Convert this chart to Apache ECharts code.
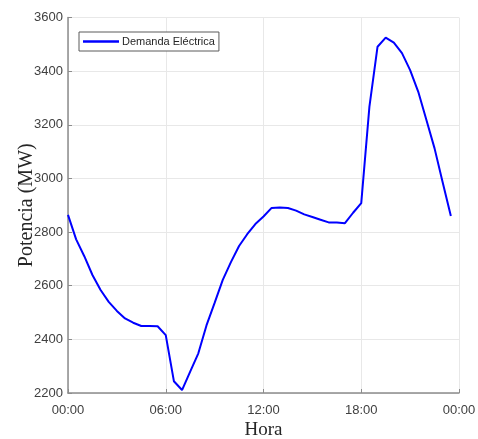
<!DOCTYPE html>
<html>
<head>
<meta charset="utf-8">
<script src="https://cdn.jsdelivr.net/npm/echarts@6/dist/echarts.min.js"></script>
<style>
  html, body { margin: 0; padding: 0; background: #fff; }
  #chart { width: 478px; height: 439px; }
</style>
</head>
<body>
<div id="chart"></div>
<script>
// Half-hourly electricity demand over one day
const hours = [0, 0.5, 1, 1.5, 2, 2.5, 3, 3.5, 4, 4.5, 5, 5.5, 6, 6.5, 7, 7.5,
  8, 8.5, 9, 9.5, 10, 10.5, 11, 11.5, 12, 12.5, 13, 13.5, 14, 14.5, 15, 15.5,
  16, 16.5, 17, 17.5, 18, 18.5, 19, 19.5, 20, 20.5, 21, 21.5, 22, 22.5, 23, 23.5];
const demandMW = [2864, 2773, 2710, 2640, 2584, 2540, 2506, 2478, 2462, 2450, 2450, 2449,
  2416, 2244, 2211, 2280, 2348, 2452, 2536, 2622, 2688, 2748, 2792, 2830,
  2858, 2890, 2892, 2890, 2880, 2866, 2856, 2846, 2836, 2836, 2833, 2872,
  2908, 3267, 3491, 3525, 3506, 3467, 3404, 3323, 3218, 3112, 2985, 2860];
const xTicks = [0, 6, 12, 18, 24];
const xTickLabels = ['00:00', '06:00', '12:00', '18:00', '00:00'];
const seriesName = 'Demanda Eléctrica';

const chart = echarts.init(document.getElementById('chart'));
const sans = 'Liberation Sans, Arial, sans-serif';
const serif = 'Liberation Serif, Times New Roman, serif';
const gridLine = { show: true, lineStyle: { color: '#e8e8e8', width: 1 } };

chart.setOption({
  animation: false,
  backgroundColor: '#ffffff',
  grid: { left: 68, right: 19, top: 17.5, bottom: 46, containLabel: false, outerBoundsMode: 'none' },
  legend: {
    left: 79, top: 32,
    data: [{ name: seriesName, icon: 'rect' }],
    orient: 'horizontal',
    borderColor: '#5a5a5a', borderWidth: 1, borderRadius: 0,
    padding: [4, 4, 4, 4],
    backgroundColor: '#ffffff',
    itemWidth: 36, itemHeight: 2.5, itemGap: 4,
    textStyle: { fontFamily: sans, fontSize: 11, color: '#262626', padding: [0, 0, 0, -2] }
  },
  xAxis: {
    type: 'value', min: 0, max: 24, interval: 6,
    name: 'Hora', nameLocation: 'middle', nameGap: 28, nameMoveOverlap: false,
    nameTextStyle: { fontFamily: serif, fontSize: 19, color: '#262626' },
    axisLine: { show: true, onZero: false, lineStyle: { color: '#8c8c8c', width: 1.5 } },
    axisTick: { show: true, inside: true, length: 4, lineStyle: { color: '#8c8c8c' } },
    axisLabel: {
      fontFamily: sans, fontSize: 13, color: '#404040', margin: 11,
      formatter: v => xTickLabels[xTicks.indexOf(v)] ?? ''
    },
    splitLine: gridLine
  },
  yAxis: {
    type: 'value', min: 2200, max: 3600, interval: 200,
    name: 'Potencia (MW)', nameLocation: 'middle', nameGap: 31, nameMoveOverlap: false,
    nameTextStyle: { fontFamily: serif, fontSize: 20, color: '#262626' },
    axisLine: { show: true, lineStyle: { color: '#8c8c8c', width: 1.5 } },
    axisTick: { show: true, inside: true, length: 4, lineStyle: { color: '#8c8c8c' } },
    axisLabel: { fontFamily: sans, fontSize: 13, color: '#404040', margin: 5, formatter: v => String(v) },
    splitLine: gridLine
  },
  series: [{
    name: seriesName,
    type: 'line',
    data: hours.map((h, i) => [h, demandMW[i]]),
    showSymbol: false, symbol: 'none',
    lineStyle: { color: '#0000ff', width: 2 },
    itemStyle: { color: '#0000ff' }
  }]
});
</script>
</body>
</html>
